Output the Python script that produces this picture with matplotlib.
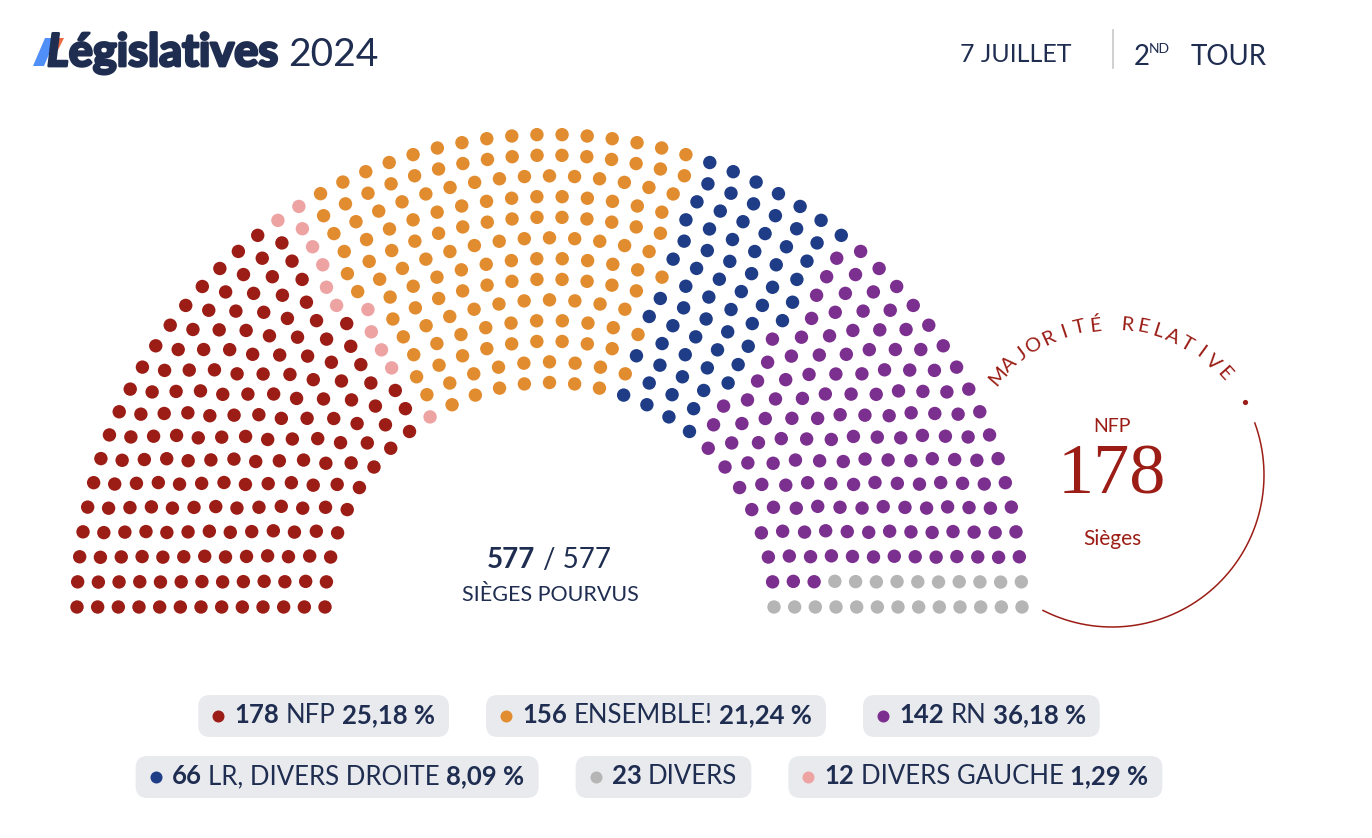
import numpy as np
import matplotlib.pyplot as plt
import matplotlib.patheffects as pe
from matplotlib.patches import FancyBboxPatch, Polygon

# party data, in seat order around the hemicycle (left to right)
parties = ['NFP', 'DIVERS GAUCHE', 'ENSEMBLE!', 'LR, DIVERS DROITE', 'RN', 'DIVERS']
seats = [178, 12, 156, 66, 142, 23]
percents = ['25,18 %', '1,29 %', '21,24 %', '8,09 %', '36,18 %', '']
colors = ['#9b1d16', '#eea3a3', '#e28c30', '#1f3c87', '#7b2f8e', '#b5b5b5']

# legend layout (indices into the lists above)
legend_rows = [[0, 2, 4], [3, 5, 1]]

total_seats = 577
filled_seats = 577
n_rows = 13

NAVY = '#1e2d50'
RED = '#9b1d16'
FONT = 'Lato'

W, H = 1372, 838
fig = plt.figure(figsize=(W / 100, H / 100), dpi=100)
ax = fig.add_axes([0, 0, 1, 1])
ax.set_xlim(0, W)
ax.set_ylim(H, 0)
ax.axis('off')
renderer = fig.canvas.get_renderer()


def text_width(s, **kw):
    t = ax.text(0, 0, s, **kw)
    w = t.get_window_extent(renderer).width
    t.remove()
    return w


# ---- hemicycle ----
cx, cy = 549.5, 607
r_in, r_out = 224.5, 472.5
radii = np.linspace(r_in, r_out, n_rows)
exact = total_seats * radii / radii.sum()
per_row = np.floor(exact).astype(int)
left = total_seats - per_row.sum()
per_row[np.argsort(exact - per_row)[::-1][:left]] += 1

xs, ys, angs, rs = [], [], [], []
for r, n in zip(radii, per_row):
    phi = np.pi * (1 - np.arange(n) / (n - 1))
    xs.extend(cx + r * np.cos(phi))
    ys.extend(cy - r * np.sin(phi))
    angs.extend(phi)
    rs.extend([r] * n)
xs, ys, angs, rs = map(np.array, (xs, ys, angs, rs))
order = np.lexsort((rs, -np.round(angs, 9)))
seat_colors = np.repeat(colors, seats)
ax.scatter(xs[order], ys[order], s=(13.4 * 0.72) ** 2, c=seat_colors, linewidths=0, zorder=3)

# centre label
w577 = text_width('577', fontsize=20, fontweight='bold', family=FONT)
wrest = text_width('/ 577', fontsize=20, family=FONT)
x0 = 549 - (w577 + 8 + wrest) / 2
ax.text(x0, 568, str(filled_seats), fontsize=20, fontweight='bold', family=FONT,
        color=NAVY, va='baseline')
ax.text(x0 + w577 + 8, 568, f'/ {total_seats}', fontsize=20, family=FONT,
        color=NAVY, va='baseline')
ax.text(550, 601, 'SIÈGES POURVUS', fontsize=15.5, family=FONT, color=NAVY,
        ha='center', va='baseline')

# ---- majorité relative circle ----
ccx, ccy, cr = 1112, 475, 152
t = np.radians(np.linspace(20, -117, 200))
ax.plot(ccx + cr * np.cos(t), ccy - cr * np.sin(t), color=RED, lw=1.1)
ax.scatter([ccx + cr * np.cos(np.radians(28.8))], [ccy - cr * np.sin(np.radians(28.8))],
           s=14, color=RED, linewidths=0)
label = 'MAJORITÉ RELATIVE'
for i, ch in enumerate(label):
    a = 139 - i * (139 - 42) / (len(label) - 1)
    ar = np.radians(a)
    ax.text(ccx + 151 * np.cos(ar), ccy - 151 * np.sin(ar), ch, fontsize=14.5,
            family=FONT, color=RED, ha='center', va='center', rotation=a - 90,
            rotation_mode='anchor')
ax.text(ccx, 432, parties[0], fontsize=14, family=FONT, color=RED, ha='center', va='baseline')
ax.text(ccx, 476, str(seats[0]), fontsize=52, family='Liberation Serif', color=RED,
        ha='center', va='center')
ax.text(ccx, 545, 'Sièges', fontsize=15, family=FONT, color=RED, ha='center', va='baseline')

# ---- header ----
ax.add_patch(Polygon([(33, 66), (44, 66), (56, 38), (45, 38)], color='#4f8ff7', lw=0))
ax.add_patch(Polygon([(52, 50), (58, 50), (64, 38), (58, 38)], color='#e9683f', lw=0))
thick = [pe.withStroke(linewidth=2.0, foreground=NAVY)]
TFS = 32.5
wl = text_width('L', fontsize=TFS, fontweight='bold', style='italic', family=FONT)
ax.text(47, 66, 'L', fontsize=TFS, fontweight='bold', style='italic', family=FONT,
        color=NAVY, va='baseline', path_effects=thick)
we = text_width('égislatives', fontsize=TFS, fontweight='bold', family=FONT)
ax.text(47 + wl, 66, 'égislatives', fontsize=TFS, fontweight='bold', family=FONT,
        color=NAVY, va='baseline', path_effects=thick)
ax.text(47 + wl + we + 10, 66, '2024', fontsize=28, family=FONT, color=NAVY, va='baseline')

ax.text(1072, 62, '7 JUILLET', fontsize=18, family=FONT, color=NAVY, ha='right', va='baseline')
ax.plot([1113, 1113], [30, 68], color='#c8c8c8', lw=1.2)
ax.text(1134, 65, '2', fontsize=20, family=FONT, color=NAVY, va='baseline')
ax.text(1149, 53, 'ND', fontsize=10, family=FONT, color=NAVY, va='baseline')
ax.text(1191, 65, 'TOUR', fontsize=20, family=FONT, color=NAVY, va='baseline')

# ---- legend ----
LFS = 18.5
space = text_width('a a', fontsize=LFS, family=FONT) - text_width('aa', fontsize=LFS, family=FONT)
row_y = [716, 777]
for ry, row in zip(row_y, legend_rows):
    items = []
    for k in row:
        parts = [(str(seats[k]), 'bold'), (parties[k], 'normal')]
        if percents[k]:
            parts.append((percents[k], 'bold'))
        widths = [text_width(p, fontsize=LFS, fontweight=wgt, family=FONT) for p, wgt in parts]
        content = 12 + 10 + sum(widths) + space * (len(parts) - 1)
        items.append((k, parts, widths, content + 2 * 14))
    gap = 37
    total = sum(it[3] for it in items) + gap * (len(items) - 1)
    bx = 649 - total / 2
    for k, parts, widths, bw in items:
        ax.add_patch(FancyBboxPatch((bx, ry - 21), bw, 42,
                                    boxstyle='round,pad=0,rounding_size=12',
                                    fc='#e9eaee', ec='none', zorder=1))
        ax.scatter([bx + 20], [ry], s=(12 * 0.72) ** 2, color=colors[k], linewidths=0, zorder=2)
        tx = bx + 14 + 12 + 10
        for (p, wgt), w in zip(parts, widths):
            ax.text(tx, ry + 7, p, fontsize=LFS, fontweight=wgt, family=FONT,
                    color=NAVY, va='baseline', zorder=2)
            tx += w + space
        bx += bw + gap

fig.savefig('out.png', dpi=100)
